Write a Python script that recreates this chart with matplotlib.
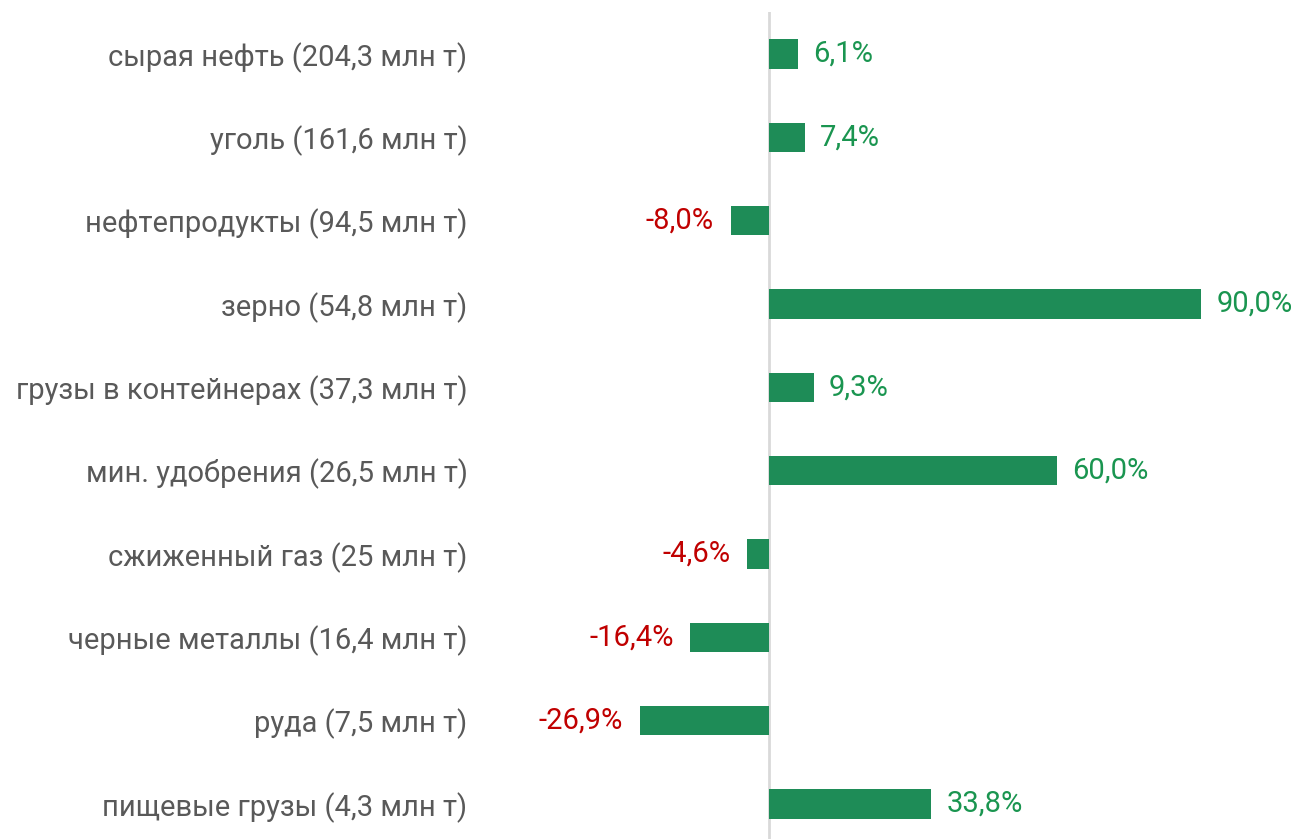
import matplotlib.pyplot as plt

plt.rcParams['font.family'] = ['Roboto', 'DejaVu Sans']

# Данные
categories = ['сырая нефть (204,3 млн т)', 'уголь (161,6 млн т)', 'нефтепродукты (94,5 млн т)',
              'зерно (54,8 млн т)', 'грузы в контейнерах (37,3 млн т)', 'мин. удобрения (26,5 млн т)',
              'сжиженный газ (25 млн т)', 'черные металлы (16,4 млн т)', 'руда (7,5 млн т)',
              'пищевые грузы (4,3 млн т)']
changes = [6.1, 7.4, -8.0, 90.0, 9.3, 60.0, -4.6, -16.4, -26.9, 33.8]

bar_color = '#1e8c57'
pos_color = '#1a9550'
neg_color = '#c00000'

W, H = 1299, 839
fig = plt.figure(figsize=(W / 100, H / 100), dpi=100)
left_px, right_px, top_px, bottom_px = 480, 1299, 12, 839
ax = fig.add_axes([left_px / W, 0, (right_px - left_px) / W, (H - top_px) / H])

y = list(range(len(categories)))
ax.barh(y, changes, height=0.35, color=bar_color, zorder=2)
ax.axvline(0, color='#d9d9d9', lw=2, zorder=1)

for yi, v in zip(y, changes):
    txt = f'{v:.1f}%'.replace('.', ',')
    if v >= 0:
        ax.annotate(txt, (v, yi), xytext=(11, 0), textcoords='offset points',
                    ha='left', va='center', color=pos_color, fontsize=21)
    else:
        ax.annotate(txt, (v, yi), xytext=(-12, 0), textcoords='offset points',
                    ha='right', va='center', color=neg_color, fontsize=21)

zero_px, px_per_unit = 769, 4.8
ax.set_xlim((left_px - zero_px) / px_per_unit, (right_px - zero_px) / px_per_unit)
ax.set_ylim(9 + 35 / 83.3, -42 / 83.3)

ax.set_yticks(y)
ax.set_yticklabels(categories, fontsize=21, color='#595959')
ax.tick_params(axis='y', length=0, pad=9)
ax.set_xticks([])
for s in ax.spines.values():
    s.set_visible(False)
ax.patch.set_alpha(0)

fig.savefig('out.png', dpi=100)
